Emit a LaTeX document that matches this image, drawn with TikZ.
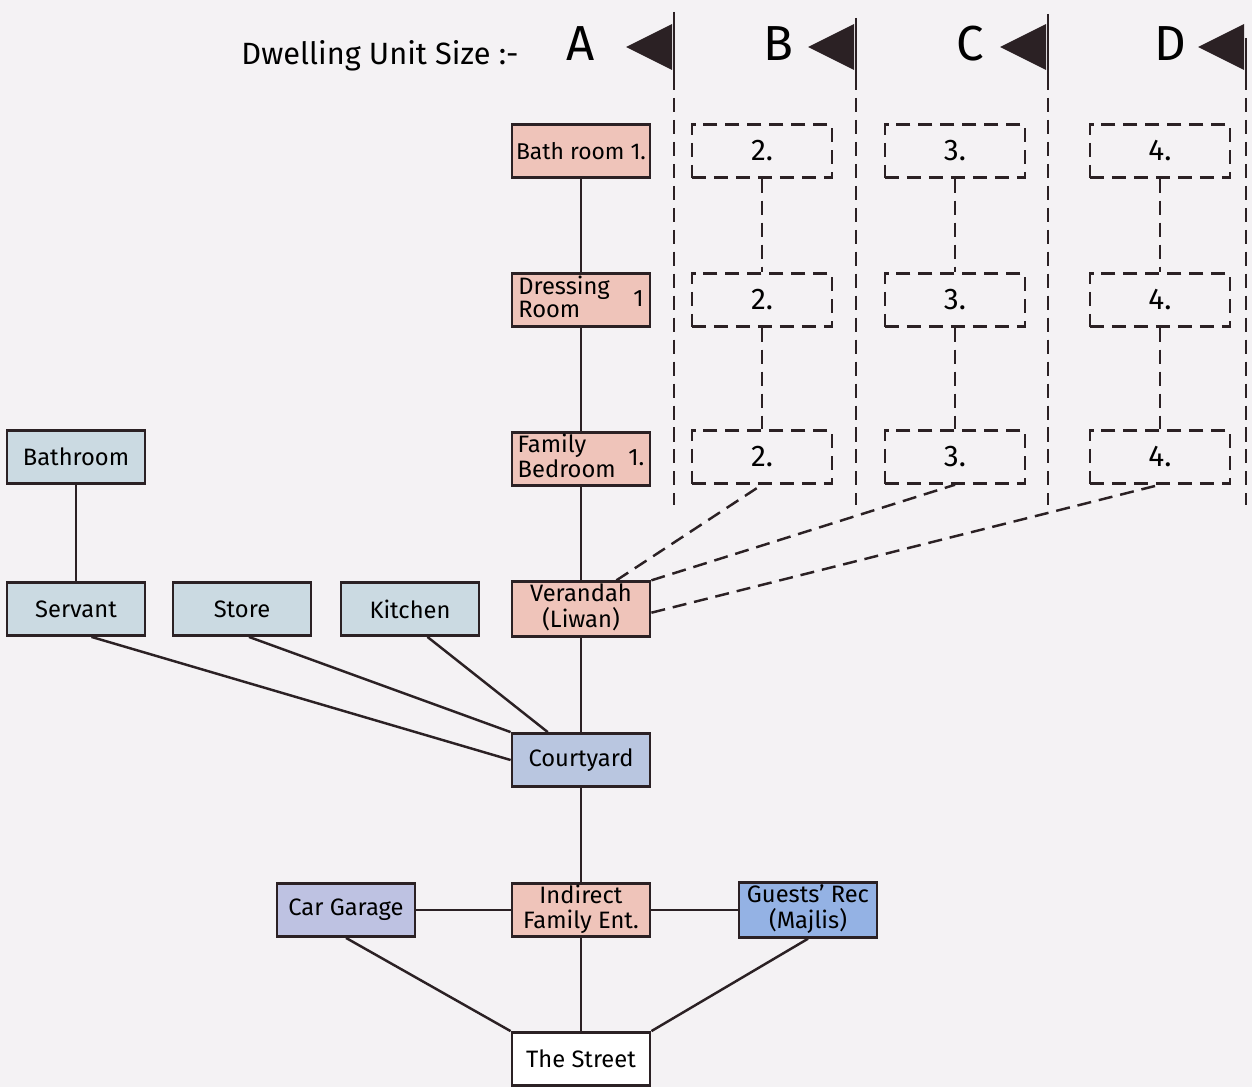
\documentclass[tikz,border=0pt]{standalone}
\usepackage{fontspec}
\setmainfont{Fira Sans}
\usetikzlibrary{positioning}
\definecolor{paper}{HTML}{F4F2F4}
\definecolor{ink}{HTML}{2B2124}
\definecolor{famred}{HTML}{EFC4BA}
\definecolor{servblue}{HTML}{CBDAE2}
\definecolor{yardblue}{HTML}{B9C6E0}
\definecolor{garblue}{HTML}{BEC2E2}
\definecolor{guestblue}{HTML}{94B2E4}
\newcommand{\twolines}[1]{\begin{tabular}{@{}c@{}}#1\end{tabular}}
\newcommand{\leftlines}[1]{\begin{tabular}{@{}l@{}}#1\end{tabular}}

\begin{document}
\begin{tikzpicture}[x=0.2mm,y=-0.2mm,
  room/.style={draw=ink,line width=1.6pt,minimum width=27.6mm,minimum height=10.6mm,
    inner sep=1pt,font=\fontsize{13.5}{12.5}\selectfont},
  spare/.style={draw=ink,line width=1.4pt,dash pattern=on 8pt off 4.5pt,
    minimum width=28mm,minimum height=10.6mm,font=\fontsize{17}{17}\selectfont},
  link/.style={draw=ink,line width=1.4pt},
  spareline/.style={draw=ink,line width=1.4pt,dash pattern=on 8pt off 4.5pt},
  marker/.style={fill=ink}]
\fill[paper] (0,0) rectangle (1252,1087);
\useasboundingbox (0,0) rectangle (1252,1087);

\node[font=\fontsize{17.5}{17.5}\selectfont] (title) at (380,56) {Dwelling Unit Size :-};
\foreach \l/\lx/\x/\top in {A/581/674/12,B/778/856/18,C/970/1048/14,D/1170/1246/38} {
  \node[font=\fontsize{28}{28}\selectfont] (size\l) at (\lx,44) {\l};
  \fill[marker] (\x-48,47) -- (\x-2,24) -- (\x-2,70) -- cycle;
  \coordinate (top\l) at (\x,\top);
  \coordinate (mid\l) at (\x,76);
  \coordinate (end\l) at (\x,505);
  \draw[link] (top\l) -- (mid\l);
  \draw[spareline] (mid\l) -- (end\l);
}

\node[room,fill=famred] (bath) at (581,151) {\fontsize{13}{13}\selectfont Bath room 1.};
\node[room,fill=famred] (dressing) at (581,300) {\leftlines{Dressing\\Room}\quad 1};
\node[room,fill=famred] (bedroom) at (581,459) {\leftlines{Family\\Bedroom}\ \ 1.};
\node[room,fill=famred] (verandah) at (581,609) {\twolines{Verandah\\(Liwan)}};
\node[room,fill=yardblue] (courtyard) at (581,760) {Courtyard};
\node[room,fill=famred] (entrance) at (581,910) {\twolines{Indirect\\Family Ent.}};
\node[room,fill=white] (street) at (581,1059) {The Street};
\node[room,fill=servblue] (sbath) at (76,457) {Bathroom};
\node[room,fill=servblue] (servant) at (76,609) {Servant};
\node[room,fill=servblue] (store) at (242,609) {Store};
\node[room,fill=servblue] (kitchen) at (410,609) {Kitchen};
\node[room,fill=garblue] (garage) at (346,910) {Car Garage};
\node[room,fill=guestblue] (majlis) at (808,910) {\twolines{Guests' Rec\\(Majlis)}};

\foreach \n/\x in {2/762,3/955,4/1160} {
  \foreach \r/\y in {1/151,2/300,3/457}
    \node[spare] (unit\n\r) at (\x,\y) {\n.};
  \draw[spareline] (unit\n1) -- (unit\n2) -- (unit\n3);
}

\draw[link] (bath) -- (dressing) -- (bedroom) -- (verandah) -- (courtyard) -- (entrance) -- (street);
\draw[link] (sbath) -- (servant);
\draw[link] (servant.-61) -- (courtyard.west);
\draw[link] (store.-76) -- (courtyard.north west);
\draw[link] (kitchen.-58) -- (courtyard.140);
\draw[spareline] (verandah.39) -- (unit23.south);
\draw[spareline] (verandah.north east) -- (unit33.south);
\draw[spareline] (verandah.-3) -- (unit43.south);
\draw[link] (garage) -- (entrance) -- (majlis);
\draw[link] (garage.south) -- (street.north west);
\draw[link] (majlis.south) -- (street.north east);
\end{tikzpicture}
\end{document}
